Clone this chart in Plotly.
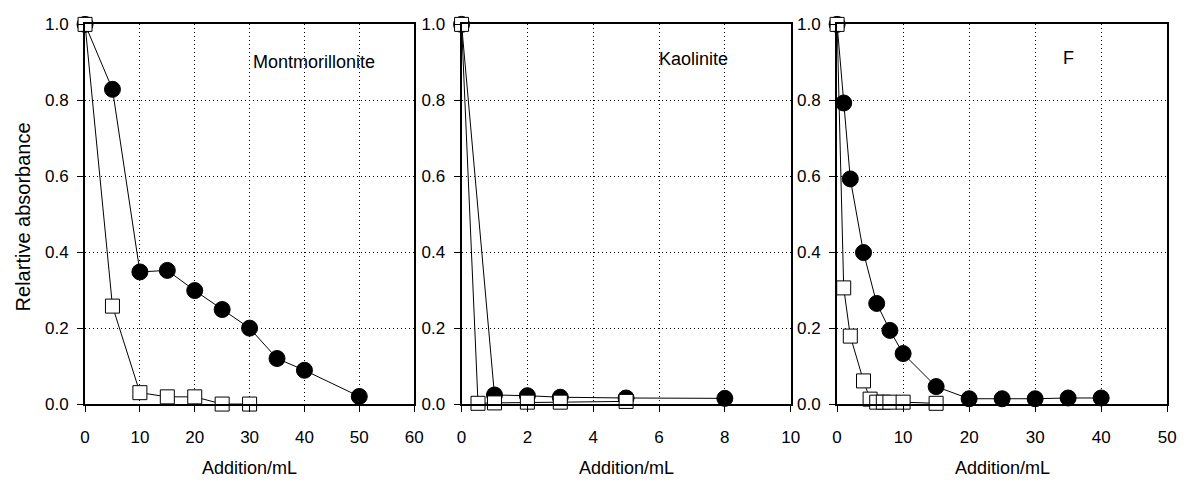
import plotly.graph_objects as go

# ---- data ----
mont_circle_x = [0, 5, 10, 15, 20, 25, 30, 35, 40, 50]
mont_circle_y = [1.0, 0.829, 0.348, 0.352, 0.299, 0.249, 0.200, 0.120, 0.089, 0.020]
mont_square_x = [0, 5, 10, 15, 20, 25, 30]
mont_square_y = [1.0, 0.258, 0.030, 0.019, 0.019, 0.0, 0.0]

kaol_circle_x = [0, 1, 2, 3, 5, 8]
kaol_circle_y = [1.0, 0.024, 0.022, 0.018, 0.016, 0.015]
kaol_square_x = [0, 0.5, 1, 2, 3, 5]
kaol_square_y = [1.0, 0.002, 0.003, 0.005, 0.005, 0.007]

f_circle_x = [0, 1, 2, 4, 6, 8, 10, 15, 20, 25, 30, 35, 40]
f_circle_y = [1.0, 0.793, 0.593, 0.399, 0.265, 0.194, 0.133, 0.046, 0.014, 0.014, 0.014, 0.016, 0.016]
f_square_x = [0, 1, 2, 4, 5, 6, 7, 8, 10, 15]
f_square_y = [1.0, 0.306, 0.179, 0.061, 0.013, 0.005, 0.005, 0.005, 0.005, 0.002]

panel_labels = ["Montmorillonite", "Kaolinite", "F"]
x_ranges = [[0, 60], [0, 10], [0, 50]]
x_dticks = [10, 2, 10]
y_ticks = [0.0, 0.2, 0.4, 0.6, 0.8, 1.0]
y_ticktext = ["0.0", "0.2", "0.4", "0.6", "0.8", "1.0"]
x_title = "Addition/mL"
y_title = "Relartive absorbance"

W, H = 1191, 490
FONT = "Liberation Sans, Arial, sans-serif"

# pixel layout of the three frames
px_domains = [(81, 414), (462, 795), (842, 1176)]
py_top, py_bottom = 16, 411
ydom = [(H - py_bottom) / H, (H - py_top) / H]

fig = go.Figure()

series = [
    (mont_circle_x, mont_circle_y, mont_square_x, mont_square_y),
    (kaol_circle_x, kaol_circle_y, kaol_square_x, kaol_square_y),
    (f_circle_x, f_circle_y, f_square_x, f_square_y),
]

for i, (cx, cy, sx, sy) in enumerate(series):
    xa = "x" if i == 0 else f"x{i+1}"
    ya = "y" if i == 0 else f"y{i+1}"
    fig.add_trace(go.Scatter(
        x=cx, y=cy, xaxis=xa, yaxis=ya, mode="lines+markers",
        line=dict(color="black", width=1),
        marker=dict(symbol="circle", size=16, color="black",
                    line=dict(color="black", width=1)),
        cliponaxis=False, showlegend=False))
    fig.add_trace(go.Scatter(
        x=sx, y=sy, xaxis=xa, yaxis=ya, mode="lines+markers",
        line=dict(color="black", width=1),
        marker=dict(symbol="square", size=14, color="white",
                    line=dict(color="black", width=1)),
        cliponaxis=False, showlegend=False))

axis_common = dict(
    showline=True, linecolor="black", linewidth=2, mirror=True,
    ticks="outside", ticklen=6, tickwidth=1, tickcolor="black",
    showgrid=True, gridcolor="black", gridwidth=1, griddash="1px,3px",
    zeroline=False,
    tickfont=dict(family=FONT, size=17, color="black"),
)

layout = dict(
    width=W, height=H,
    margin=dict(l=0, r=0, t=0, b=0),
    paper_bgcolor="white", plot_bgcolor="white",
    font=dict(family=FONT, color="black"),
)

annotations = []
for i, (x0, x1) in enumerate(px_domains):
    xkey = "xaxis" if i == 0 else f"xaxis{i+1}"
    ykey = "yaxis" if i == 0 else f"yaxis{i+1}"
    yname = "y" if i == 0 else f"y{i+1}"
    xname = "x" if i == 0 else f"x{i+1}"
    layout[xkey] = dict(
        axis_common, domain=[x0 / W, x1 / W], range=x_ranges[i],
        tick0=0, dtick=x_dticks[i], anchor=yname, ticklabelstandoff=11,
    )
    layout[ykey] = dict(
        axis_common, domain=ydom, range=[0, 1], anchor=xname,
        tickvals=y_ticks, ticktext=y_ticktext, ticklabelstandoff=5,
    )
    # x title
    annotations.append(dict(
        text=x_title, xref="paper", yref="paper",
        x=(x0 + x1) / 2 / W, y=(H - 477) / H,
        xanchor="center", yanchor="middle", showarrow=False,
        font=dict(family=FONT, size=18, color="black")))

# panel labels (pixel positions converted to paper)
label_px = [(313, 55), (697, 52), (1076, 51)]
for txt, (lx, ly) in zip(panel_labels, label_px):
    annotations.append(dict(
        text=txt, xref="paper", yref="paper",
        x=lx / W, y=(H - ly) / H, xanchor="center", yanchor="middle",
        showarrow=False, font=dict(family=FONT, size=18, color="black")))

# y title
annotations.append(dict(
    text=y_title, xref="paper", yref="paper",
    x=18 / W, y=(H - 216) / H, xanchor="center", yanchor="middle",
    textangle=-90, showarrow=False,
    font=dict(family=FONT, size=20, color="black")))

layout["annotations"] = annotations
fig.update_layout(**layout)
fig.write_html("out.html")
